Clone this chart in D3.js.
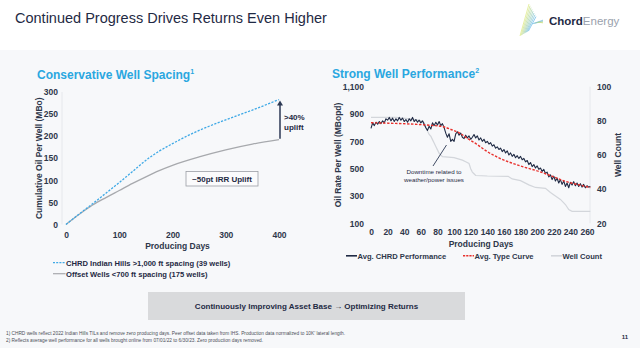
<!DOCTYPE html>
<html>
<head>
<meta charset="utf-8">
<script src="https://cdn.jsdelivr.net/npm/d3@7"></script>
<style>
  html, body { margin: 0; padding: 0; background: #f7f8fa; }
  svg { display: block; font-family: "Liberation Sans", Arial, sans-serif; }
</style>
</head>
<body>
<svg id="slide" width="640" height="348"></svg>
<script>
// Cumulative oil per well (MBo) vs producing days
const spacingDays = [0, 25, 50, 75, 100, 125, 155, 175, 200, 225, 250, 300, 350, 400];
const chrdCumOil = [0, 24, 47, 71, 95, 120, 150, 166, 183, 199, 213, 237, 259, 283];
const offsetDays = [0, 25, 50, 75, 100, 125, 150, 175, 200, 250, 300, 350, 400];
const offsetCumOil = [0, 23, 44, 61, 77, 93, 108, 122, 134, 153, 169, 182, 192];
const cumOilTicks = [0, 50, 100, 150, 200, 250, 300];
const spacingDayTicks = [0, 100, 200, 300, 400];

// Average daily oil rate per well (Bopd), one value every 2 producing days
const rateStepDays = 2;
const chrdRate = [
  795, 835, 815, 840, 825, 845, 830, 850, 835, 865, 855, 875, 850, 870, 845, 865,
  850, 875, 855, 870, 845, 860, 840, 865, 850, 875, 845, 860, 840, 855, 835, 850,
  825, 800, 780, 810, 790, 835, 815, 840, 820, 845, 815, 830, 800, 760, 730, 755,
  700, 715, 700, 755, 770, 745, 760, 730, 720, 745, 725, 740, 715, 730, 750, 725,
  740, 710, 725, 700, 715, 690, 700, 680, 690, 665, 675, 650, 660, 640, 650, 625,
  640, 615, 630, 600, 615, 590, 605, 580, 595, 575, 590, 565, 575, 550, 560, 530,
  545, 515, 530, 505, 520, 495, 505, 480, 495, 465, 475, 440, 455, 420, 445, 410,
  430, 395, 420, 385, 410, 370, 395, 360, 400, 380, 405, 375, 395, 370, 390, 365,
  385, 360, 375, 365, 370
];
const typeCurveDays = [0, 20, 47, 70, 87, 97, 107, 117, 127, 140, 155, 170, 185, 203, 220, 235, 250, 264];
const typeCurveRate = [836, 833, 827, 818, 807, 785, 759, 718, 680, 625, 576, 540, 510, 478, 440, 405, 382, 362];
const wellCountDays = [0, 30, 50, 60, 64, 66, 68, 70, 72, 74, 76, 78, 80, 82, 84, 86, 100, 110, 114, 118,
  120, 122, 124, 126, 140, 165, 170, 180, 190, 198, 210, 216, 222, 228, 234, 238, 242, 264];
const wellCount = [82, 82, 81, 80, 79, 76, 74, 72, 71, 69, 67, 65, 63, 61, 60, 59, 58.5, 57, 56, 55,
  52, 50, 49, 48, 47.7, 47.5, 46, 45, 42.5, 41, 40.5, 38, 36, 34, 31, 28, 27, 27];
const rateTicks = [100, 300, 500, 700, 900, 1100];
const countTicks = [20, 40, 60, 80, 100];
const rateDayTicks = [0, 20, 40, 60, 80, 100, 120, 140, 160, 180, 200, 220, 240, 260];

const navy = '#1f2a44';
const tickColor = '#2e374a';
const accent = '#2aa7e0';

const svg = d3.select('#slide');

// header strip
svg.append('rect').attr('x', 0).attr('y', 0).attr('width', 640).attr('height', 50).attr('fill', '#ffffff');
svg.append('text')
  .attr('x', 15).attr('y', 23)
  .attr('font-size', '14.5px').attr('fill', navy)
  .text('Continued Progress Drives Returns Even Higher');

// logo mark: fan of thin strokes going from green to blue
const logo = svg.append('g').attr('opacity', 0.85);
const fanColor = d3.interpolateRgb('#cfe04a', '#2c9ee0');
d3.range(8).forEach(i => {
  const t = i / 7;
  logo.append('line')
    .attr('x1', 529 + i * 1.0).attr('y1', 4 + i * 1.8)
    .attr('x2', 520 + i * 1.2).attr('y2', 36 - i * 0.7)
    .attr('stroke', fanColor(t)).attr('stroke-width', 0.6);
  logo.append('line')
    .attr('x1', 532 + i * 1.0).attr('y1', 24 - i * 0.3)
    .attr('x2', 543).attr('y2', 20 + i * 0.45)
    .attr('stroke', fanColor(1 - t)).attr('stroke-width', 0.5).attr('opacity', 0.7);
});
const logoText = svg.append('text').attr('x', 549).attr('y', 25).attr('font-size', '11.5px');
logoText.append('tspan').attr('font-weight', 'bold').attr('fill', navy).text('Chord');
logoText.append('tspan').attr('fill', '#9aa1ad').text('Energy');

function styleAxis(g) {
  g.select('.domain').remove();
  g.selectAll('text')
    .attr('font-size', '8.5px').attr('font-weight', 'bold')
    .attr('fill', tickColor)
    .attr('font-family', '"Liberation Sans", Arial, sans-serif');
}

// ---------- Conservative Well Spacing ----------
const left = svg.append('g');
const title1 = left.append('text').attr('x', 37).attr('y', 79)
  .attr('font-size', '12px').attr('font-weight', 'bold').attr('fill', accent);
title1.append('tspan').text('Conservative Well Spacing');
title1.append('tspan').attr('font-size', '7px').attr('dy', -5).text('1');

const xS = d3.scaleLinear().domain([0, 400]).range([66, 279]);
const yS = d3.scaleLinear().domain([0, 300]).range([224.5, 92]);

left.append('line').attr('x1', 62).attr('x2', 62).attr('y1', yS(300)).attr('y2', yS(0))
  .attr('stroke', '#e6e8ec').attr('stroke-width', 1);

left.append('g').attr('transform', `translate(${xS(0)},0)`)
  .call(d3.axisLeft(yS).tickValues(cumOilTicks).tickSize(0).tickPadding(8))
  .call(styleAxis);
left.append('g').attr('transform', `translate(0,${yS(0)})`)
  .call(d3.axisBottom(xS).tickValues(spacingDayTicks).tickSize(0).tickPadding(7))
  .call(styleAxis);

left.append('text')
  .attr('transform', `translate(42,${(yS(0) + yS(300)) / 2}) rotate(-90)`)
  .attr('text-anchor', 'middle').attr('font-size', '8.5px').attr('font-weight', 'bold')
  .attr('fill', tickColor).text('Cumulative Oil Per Well (MBo)');
left.append('text')
  .attr('x', (xS(0) + xS(400)) / 2 + 5).attr('y', 248.5)
  .attr('text-anchor', 'middle').attr('font-size', '8.5px').attr('font-weight', 'bold')
  .attr('fill', tickColor).text('Producing Days');

const cumLine = d3.line().curve(d3.curveMonotoneX);
left.append('path')
  .attr('d', cumLine(offsetDays.map((d, i) => [xS(d), yS(offsetCumOil[i])])))
  .attr('fill', 'none').attr('stroke', '#a7a9ad').attr('stroke-width', 1.3);
left.append('path')
  .attr('d', cumLine(spacingDays.map((d, i) => [xS(d), yS(chrdCumOil[i])])))
  .attr('fill', 'none').attr('stroke', '#3fa9e6').attr('stroke-width', 1.3)
  .attr('stroke-dasharray', '2.2,1.4');

// uplift arrow between the two curves at day 400
const lastDay = spacingDays[spacingDays.length - 1];
const chrdEnd = chrdCumOil[chrdCumOil.length - 1];
const offsetEnd = offsetCumOil[offsetCumOil.length - 1];
const ax = xS(lastDay) + 1;
left.append('line').attr('x1', ax).attr('x2', ax)
  .attr('y1', yS(offsetEnd) - 1).attr('y2', yS(chrdEnd) + 5)
  .attr('stroke', '#2c3954').attr('stroke-width', 1.5);
left.append('path')
  .attr('d', `M${ax - 3},${yS(chrdEnd) + 6} L${ax},${yS(chrdEnd) + 1} L${ax + 3},${yS(chrdEnd) + 6} Z`)
  .attr('fill', '#2c3954');
left.append('text').attr('x', 284).attr('y', 120)
  .attr('font-size', '8px').attr('font-weight', 'bold').attr('fill', navy).text('>40%');
left.append('text').attr('x', 284).attr('y', 130)
  .attr('font-size', '8px').attr('font-weight', 'bold').attr('fill', navy).text('uplift');

left.append('rect').attr('x', 186).attr('y', 171.5).attr('width', 72).attr('height', 14.5)
  .attr('fill', '#fbfbfc').attr('stroke', '#9c9fa5').attr('stroke-width', 0.8);
left.append('text').attr('x', 222).attr('y', 181.5).attr('text-anchor', 'middle')
  .attr('font-size', '8px').attr('font-weight', 'bold').attr('fill', navy).text('~50pt IRR Uplift');

const leftLegend = [
  { label: 'CHRD Indian Hills >1,000 ft spacing (39 wells)', color: '#3fa9e6', dash: '2,1.2', y: 265.5 },
  { label: 'Offset Wells <700 ft spacing (175 wells)', color: '#a7a9ad', dash: null, y: 276.5 }
];
leftLegend.forEach(d => {
  left.append('line').attr('x1', 53).attr('x2', 65.5).attr('y1', d.y - 2.8).attr('y2', d.y - 2.8)
    .attr('stroke', d.color).attr('stroke-width', 1.2).attr('stroke-dasharray', d.dash);
  left.append('text').attr('x', 66).attr('y', d.y)
    .attr('font-size', '7.6px').attr('font-weight', 'bold').attr('fill', navy).text(d.label);
});

// ---------- Strong Well Performance ----------
const right = svg.append('g');
const title2 = right.append('text').attr('x', 332).attr('y', 78)
  .attr('font-size', '12px').attr('font-weight', 'bold').attr('fill', accent);
title2.append('tspan').text('Strong Well Performance');
title2.append('tspan').attr('font-size', '7px').attr('dy', -5).text('2');

const xP = d3.scaleLinear().domain([0, 260]).range([371, 587]);
const yRate = d3.scaleLinear().domain([100, 1100]).range([223.3, 86.7]);
const yCount = d3.scaleLinear().domain([20, 100]).range([223.3, 86.7]);

right.append('line').attr('x1', 590).attr('x2', 590).attr('y1', yRate(1100)).attr('y2', yRate(100))
  .attr('stroke', '#e6e8ec').attr('stroke-width', 1);

right.append('g').attr('transform', `translate(${xP(0)},0)`)
  .call(d3.axisLeft(yRate).tickValues(rateTicks).tickSize(0).tickPadding(7).tickFormat(d3.format(',')))
  .call(styleAxis);
right.append('g').attr('transform', `translate(590,0)`)
  .call(d3.axisRight(yCount).tickValues(countTicks).tickSize(0).tickPadding(7))
  .call(styleAxis);
right.append('g').attr('transform', `translate(0,${yRate(100)})`)
  .call(d3.axisBottom(xP).tickValues(rateDayTicks).tickSize(0).tickPadding(6))
  .call(styleAxis);

right.append('text')
  .attr('transform', `translate(341,${(yRate(100) + yRate(1100)) / 2}) rotate(-90)`)
  .attr('text-anchor', 'middle').attr('font-size', '8.5px').attr('font-weight', 'bold')
  .attr('fill', tickColor).text('Oil Rate Per Well (MBopd)');
right.append('text')
  .attr('transform', `translate(621,155) rotate(-90)`)
  .attr('text-anchor', 'middle').attr('font-size', '8.5px').attr('font-weight', 'bold')
  .attr('fill', tickColor).text('Well Count');
right.append('text')
  .attr('x', 481).attr('y', 247)
  .attr('text-anchor', 'middle').attr('font-size', '8.5px').attr('font-weight', 'bold')
  .attr('fill', tickColor).text('Producing Days');

right.append('path')
  .attr('d', d3.line()(wellCountDays.map((d, i) => [xP(d), yCount(wellCount[i])])))
  .attr('fill', 'none').attr('stroke', '#d3d6db').attr('stroke-width', 1.2);
right.append('path')
  .attr('d', d3.line()(chrdRate.map((v, i) => [xP(i * rateStepDays), yRate(v)])))
  .attr('fill', 'none').attr('stroke', navy).attr('stroke-width', 1.1).attr('stroke-linejoin', 'round');
right.append('path')
  .attr('d', d3.line().curve(d3.curveMonotoneX)(typeCurveDays.map((d, i) => [xP(d), yRate(typeCurveRate[i])])))
  .attr('fill', 'none').attr('stroke', '#e8302c').attr('stroke-width', 1.4)
  .attr('stroke-dasharray', '2.5,1.5');

// downtime callout
right.append('line').attr('x1', 433).attr('y1', 166).attr('x2', 446.5).attr('y2', 145)
  .attr('stroke', '#2c3954').attr('stroke-width', 0.9);
[['Downtime related to', 174], ['weather/power issues', 181.5]].forEach(([t, y]) => {
  right.append('text').attr('x', 434).attr('y', y).attr('text-anchor', 'middle')
    .attr('font-size', '6.2px').attr('fill', navy).text(t);
});

const rightLegend = [
  { label: 'Avg. CHRD Performance', color: navy, dash: null, x: 346 },
  { label: 'Avg. Type Curve', color: '#e8302c', dash: '2.2,1', x: 463 },
  { label: 'Well Count', color: '#d3d6db', dash: null, x: 551 }
];
rightLegend.forEach(d => {
  right.append('line').attr('x1', d.x).attr('x2', d.x + 11).attr('y1', 255.8).attr('y2', 255.8)
    .attr('stroke', d.color).attr('stroke-width', 1.6).attr('stroke-dasharray', d.dash);
  right.append('text').attr('x', d.x + 11.5).attr('y', 258.5)
    .attr('font-size', '7.6px').attr('font-weight', 'bold').attr('fill', tickColor).text(d.label);
});

// ---------- banner and footnotes ----------
svg.append('rect').attr('x', 148).attr('y', 292).attr('width', 317).attr('height', 28)
  .attr('fill', '#d9dadc');
svg.append('text').attr('x', 306.5).attr('y', 309).attr('text-anchor', 'middle')
  .attr('font-size', '8px').attr('font-weight', 'bold').attr('fill', navy)
  .text('Continuously Improving Asset Base \u2192 Optimizing Returns');

const notes = [
  ['1)  CHRD wells reflect 2022 Indian Hills TILs and remove zero producing days.  Peer offset data taken from IHS.  Production data normalized to 10K\u2019 lateral length.', 335, 339],
  ['2)  Reflects average well performance for all wells brought online from 07/01/22 to 6/30/23. Zero production days removed.', 342, 257]
];
notes.forEach(([t, y, w]) => {
  svg.append('text').attr('x', 6).attr('y', y)
    .attr('font-size', '4.8px').attr('fill', '#4b4f58')
    .attr('textLength', w).attr('lengthAdjust', 'spacingAndGlyphs').text(t);
});
svg.append('text').attr('x', 628).attr('y', 339).attr('text-anchor', 'end')
  .attr('font-size', '6px').attr('font-weight', 'bold').attr('fill', navy).text('11');
</script>
</body>
</html>
